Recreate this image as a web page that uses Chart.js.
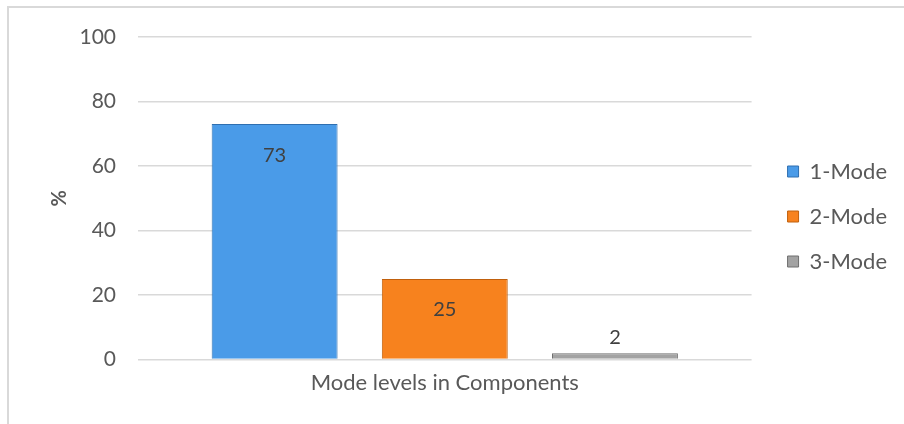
<!DOCTYPE html>
<html><head><meta charset="utf-8">
<script src="https://cdn.jsdelivr.net/npm/chart.js@4/dist/chart.umd.min.js"></script>
<style>
html,body{margin:0;padding:0;background:#fff;}
#wrap{position:relative;width:904px;height:424px;overflow:hidden;}
#frame{position:absolute;left:7px;top:6px;width:1000px;height:1000px;border-left:2px solid #d9d9d9;border-top:2px solid #d9d9d9;}
canvas{position:absolute;left:0;top:0;}
</style></head><body>
<div id="wrap"><div id="frame"></div><canvas id="c" width="904" height="424"></canvas></div>
<script>
const categories = ['Mode levels in Components'];
const seriesNames = ['1-Mode', '2-Mode', '3-Mode'];
const mode1 = [73];
const mode2 = [25];
const mode3 = [2];
const yMin = 0, yMax = 100, yStep = 20;
const yTitle = '%';

const FONT = 'Lato, Carlito, "Liberation Sans", sans-serif';
const fills = ['#4a9be8', '#f7821e', '#a3a3a3'];
const edges = ['#2f6fb0', '#c0600d', '#6f6f6f'];

const valueLabels = {
  id: 'valueLabels',
  afterDatasetsDraw(chart) {
    const ctx = chart.ctx;
    ctx.save();
    ctx.font = '20px ' + FONT;
    ctx.fillStyle = '#404040';
    ctx.textAlign = 'center';
    ctx.textBaseline = 'middle';
    chart.data.datasets.forEach((ds, i) => {
      const meta = chart.getDatasetMeta(i);
      meta.data.forEach((bar, j) => {
        const v = ds.data[j];
        const y = v > 10 ? bar.y + 31 : bar.y - 16;
        ctx.fillText(String(v), bar.x, y);
      });
    });
    ctx.restore();
  }
};

const legendShift = {
  id: 'legendShift',
  afterLayout(chart) {
    if (chart.legend) { chart.legend.top -= 5; chart.legend.bottom -= 5; }
  }
};

new Chart(document.getElementById('c'), {
  type: 'bar',
  data: {
    labels: categories,
    datasets: [mode1, mode2, mode3].map((d, i) => ({
      label: seriesNames[i],
      data: d,
      backgroundColor: fills[i],
      borderColor: edges[i],
      borderWidth: 1,
      categoryPercentage: 0.832,
      barPercentage: 0.74,
      yAxisID: 'y'
    }))
  },
  options: {
    responsive: false,
    animation: false,
    layout: { padding: { left: 48, top: 37, right: 7, bottom: 18 } },
    plugins: {
      tooltip: { enabled: false },
      legend: {
        position: 'right',
        labels: {
          boxWidth: 11, boxHeight: 11, padding: 23,
          font: { size: 22, family: FONT }, color: '#595959'
        }
      }
    },
    scales: {
      x: {
        grid: { display: false, drawTicks: false },
        border: { display: false },
        ticks: { font: { size: 22, family: FONT }, color: '#595959', padding: 10 }
      },
      y: {
        min: yMin, max: yMax,
        grid: { color: '#d9d9d9', lineWidth: 1.5, drawTicks: false },
        border: { display: false },
        ticks: { stepSize: yStep, font: { size: 21, family: FONT }, color: '#595959', padding: 22 },
        title: { display: true, text: yTitle, font: { size: 20, family: FONT, weight: 'bold' }, color: '#595959', padding: 0 },
        afterFit(s) { s.width = 90; }
      },
      y2: {
        position: 'right',
        grid: { display: false, drawTicks: false },
        border: { display: false },
        ticks: { display: false },
        afterFit(s) { s.width = 13; }
      }
    }
  },
  plugins: [valueLabels, legendShift]
});
</script>
</body></html>
